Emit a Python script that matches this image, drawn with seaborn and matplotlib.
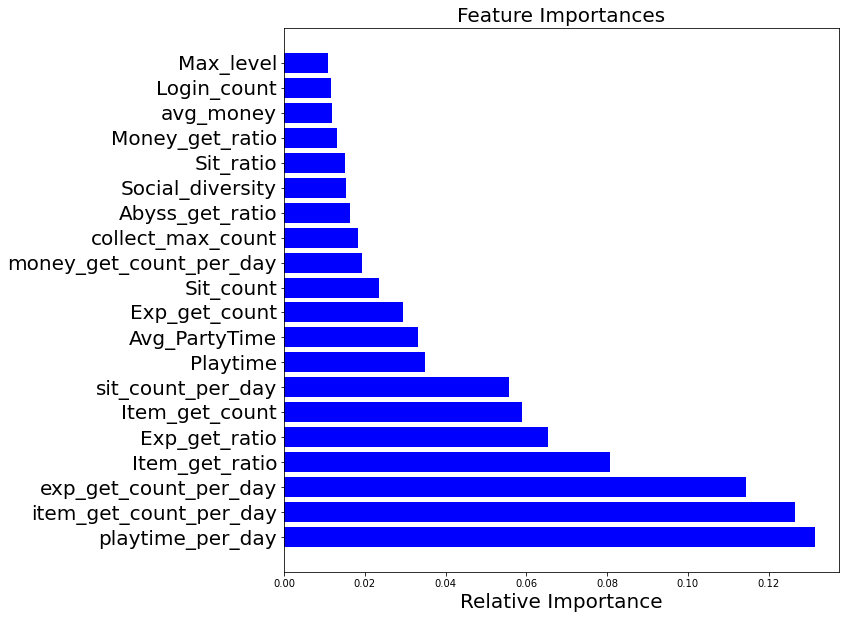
import matplotlib
matplotlib.use("Agg")
import matplotlib.pyplot as plt
import seaborn as sns
import pandas as pd

features = [
    "Max_level", "Login_count", "avg_money", "Money_get_ratio", "Sit_ratio",
    "Social_diversity", "Abyss_get_ratio", "collect_max_count",
    "money_get_count_per_day", "Sit_count", "Exp_get_count", "Avg_PartyTime",
    "Playtime", "sit_count_per_day", "Item_get_count", "Exp_get_ratio",
    "Item_get_ratio", "exp_get_count_per_day", "item_get_count_per_day",
    "playtime_per_day",
]
importances = [
    0.0109, 0.0116, 0.0119, 0.0131, 0.0151,
    0.0153, 0.0163, 0.0183,
    0.0193, 0.0235, 0.0295, 0.0331,
    0.0349, 0.0557, 0.0589, 0.0653,
    0.0807, 0.1144, 0.1265,
    0.1314,
]

df = pd.DataFrame({"feature": features, "importance": importances})

fig = plt.figure(figsize=(848 / 72, 619 / 72), dpi=72)
ax = fig.add_axes([284 / 848, 1 - 572 / 619, (839 - 284) / 848, (572 - 28) / 619])

sns.barplot(data=df, x="importance", y="feature", orient="h", color="blue",
            saturation=1, width=0.8, linewidth=0, ax=ax)

n = len(features)
ax.set_ylim(n - 1 + 1.39, -1.39)
ax.set_xlim(0, max(importances) * 1.046)
ax.set_title("Feature Importances", fontsize=20)
ax.set_xlabel("Relative Importance", fontsize=20)
ax.set_ylabel("")
ax.tick_params(axis="y", labelsize=20)
ax.tick_params(axis="x", labelsize=10)

fig.savefig("out.png", dpi=72, facecolor="white")
